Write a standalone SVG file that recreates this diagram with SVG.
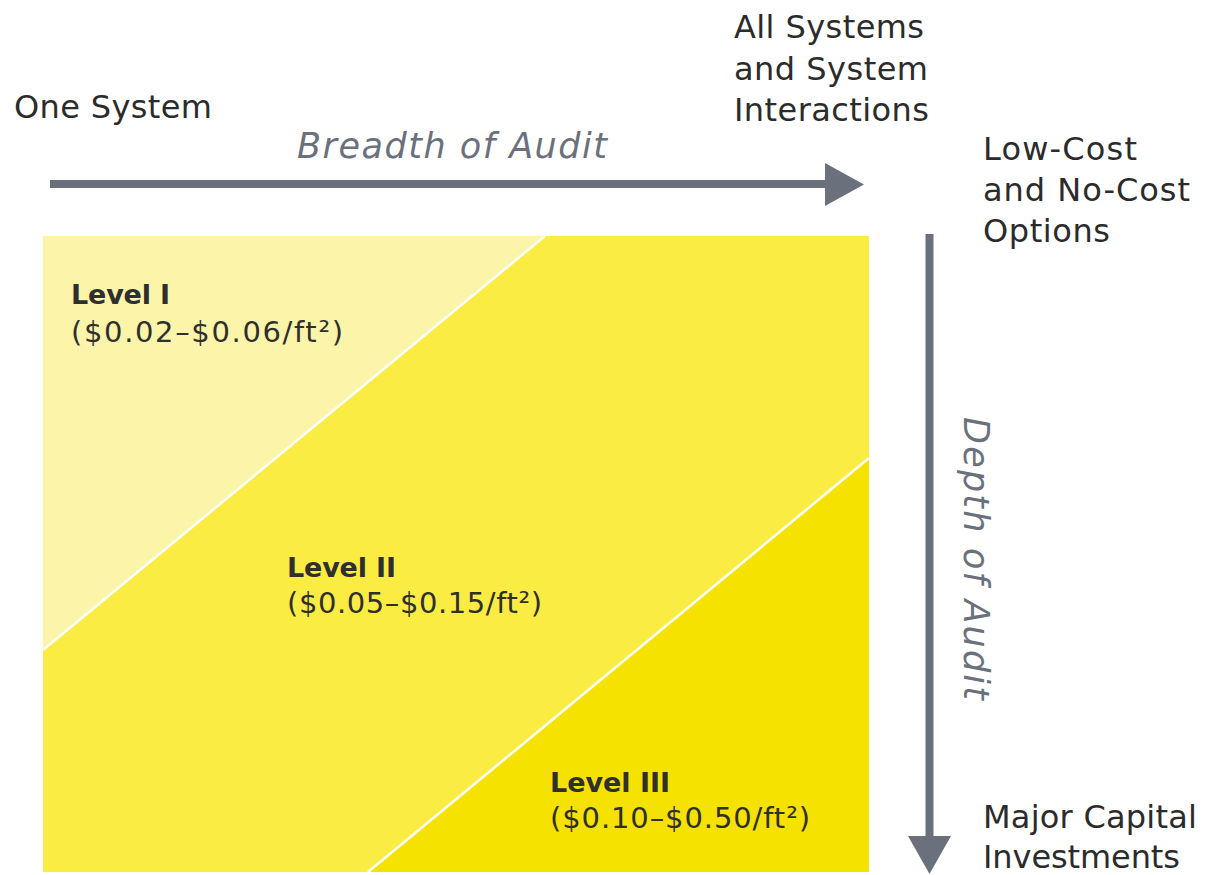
<svg xmlns="http://www.w3.org/2000/svg" width="1206" height="875" viewBox="0 0 1206 875">
<style>
.lbl{font-family:"DejaVu Sans","Liberation Sans",sans-serif;font-size:32px;fill:#2b2b2b}
.axis{font-family:"DejaVu Sans","Liberation Sans",sans-serif;font-size:35px;font-style:italic;fill:#6b717c}
.lvl{font-family:"DejaVu Sans","Liberation Sans",sans-serif;font-size:27px;font-weight:bold;fill:#2f2f2f}
.cost{font-family:"DejaVu Sans","Liberation Sans",sans-serif;font-size:29px;fill:#2f2f2f}
.div{stroke:#ffffff;stroke-width:2.5;fill:none}
.arr{stroke:#6b717c;stroke-width:8;fill:none}
.head{fill:#6b717c}
</style>
<rect width="1206" height="875" fill="#ffffff"/>
<g id="level2-region">
<rect x="43" y="236" width="826" height="636" fill="#fbec44"/>
</g>
<g id="level1-region">
<polygon points="43,236 545,236 43,650" fill="#fcf5a9"/>
</g>
<g id="level3-region">
<polygon points="869,458 869,872 368,872" fill="#f6e200"/>
</g>
<g id="dividers">
<line class="div" x1="545" y1="236" x2="43" y2="650"/>
<line class="div" x1="869" y1="458" x2="368" y2="872"/>
</g>
<g id="connectors">
<line class="arr" x1="50" y1="184" x2="827" y2="184"/>
<polygon class="head" points="825,163 864,184.5 825,206"/>
<line class="arr" x1="929.5" y1="234" x2="929.5" y2="838"/>
<polygon class="head" points="908,836 951,836 929.5,874"/>
</g>
<g id="one-system">
<text class="lbl" x="14" y="118" textLength="198">One System</text>
</g>
<g id="all-systems">
<text class="lbl" x="734" y="38" textLength="190">All Systems</text>
<text class="lbl" x="734" y="79.5" textLength="194">and System</text>
<text class="lbl" x="734" y="121" textLength="195">Interactions</text>
</g>
<g id="breadth-label">
<text class="axis" x="297" y="158" textLength="310">Breadth of Audit</text>
</g>
<g id="low-cost">
<text class="lbl" x="983" y="160" textLength="154">Low-Cost</text>
<text class="lbl" x="983" y="201" textLength="207">and No-Cost</text>
<text class="lbl" x="983" y="242" textLength="127">Options</text>
</g>
<g id="depth-label">
<text class="axis" transform="translate(964,417) rotate(90)" textLength="283">Depth of Audit</text>
</g>
<g id="major-capital">
<text class="lbl" x="983" y="828" textLength="214">Major Capital</text>
<text class="lbl" x="983" y="868" textLength="197">Investments</text>
</g>
<g id="level1">
<text class="lvl" x="71" y="304" textLength="99">Level I</text>
<text class="cost" x="71" y="342" textLength="272">($0.02–$0.06/ft²)</text>
</g>
<g id="level2">
<text class="lvl" x="287" y="577" textLength="109">Level II</text>
<text class="cost" x="287" y="613" textLength="255">($0.05–$0.15/ft²)</text>
</g>
<g id="level3">
<text class="lvl" x="550" y="792" textLength="120">Level III</text>
<text class="cost" x="550" y="828" textLength="260">($0.10–$0.50/ft²)</text>
</g>
</svg>
